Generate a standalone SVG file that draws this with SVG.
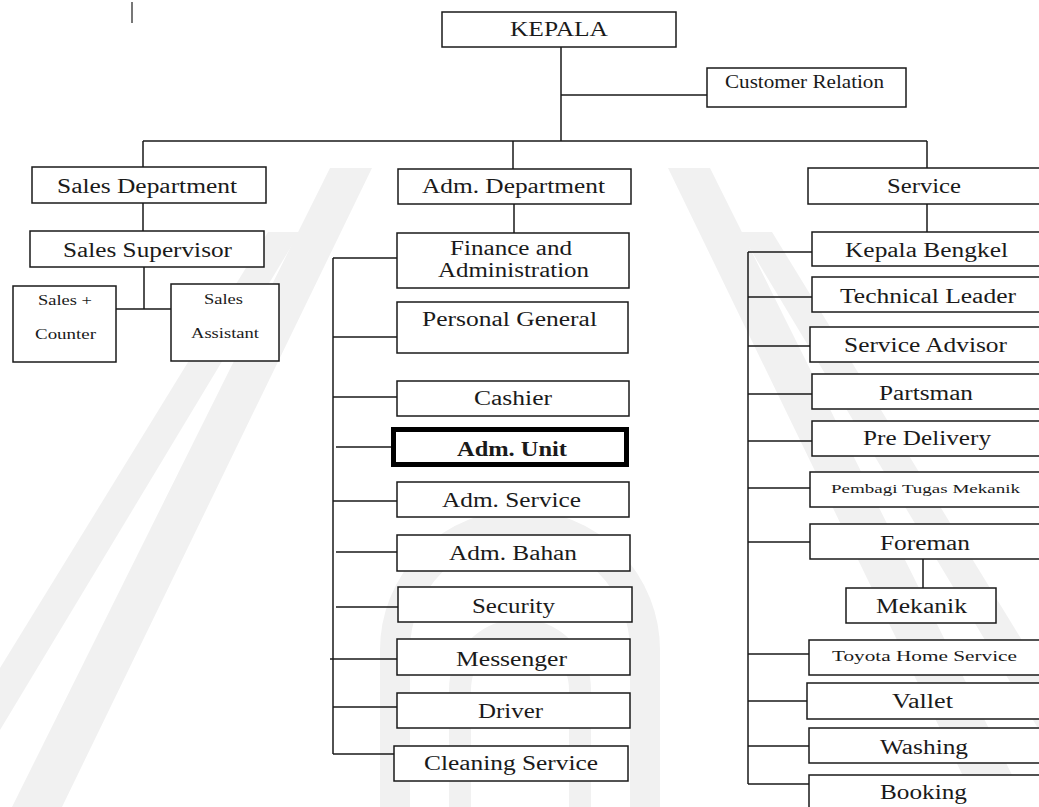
<svg xmlns="http://www.w3.org/2000/svg" width="1039" height="807" viewBox="0 0 1039 807">
<style>
.box{fill:#fff;stroke:#1a1a1a;stroke-width:1.5}
.thick{fill:#fff;stroke:#000;stroke-width:5}
.ln{stroke:#1a1a1a;stroke-width:1.5;fill:none}
.wm{fill:#f1f1f1;stroke:none}
.wms{fill:none;stroke:#f1f1f1}
text{font-family:"Liberation Serif","Times New Roman",serif;fill:#1a1a1a;text-anchor:middle}
.l{font-size:20.5px}
.m{font-size:18px}
.s{font-size:15.5px}
.xs{font-size:13.5px}
.b{font-weight:bold}
</style>
<rect x="0" y="0" width="1039" height="807" fill="#fff"/>
<g id="watermark">
<polygon class="wm" points="330,168 372,168 62,807 12,807"/>
<polygon class="wm" points="268,232 300,232 0,730 0,668"/>
<polygon class="wm" points="710,168 668,168 978,807 1028,807"/>
<polygon class="wm" points="772,232 740,232 1039,730 1039,668"/>
<path class="wms" stroke-width="30" d="M395 807V650A125 125 0 0 1 645 650V807"/>
<path class="wms" stroke-width="22" d="M460 807V690A60 60 0 0 1 580 690V807"/>
</g>
<line x1="132" y1="2" x2="132" y2="23" stroke="#777" stroke-width="2"/>
<g id="connectors">
<path class="ln" d="M561 47V141M561 95H707M143 141H927M143 141V167M513 141V169M927 141V168"/>
<path class="ln" d="M143 203V231M144 267V309M116 309H171"/>
<path class="ln" d="M514 204V233M333 258V754M333 258H397M333 337H397M333 397H397M336 447H392M333 501H397M336 552H397M336 607H398M330 659H397M333 707H397M333 754H394"/>
<path class="ln" d="M927 204V232M748 252V784M748 252H812M748 297H812M748 346H810M748 394H812M748 441H812M748 488H810M748 542H810M923 559V588M748 654H809M748 701H807M748 746H809M748 784H809"/>
</g>
<g id="kepala"><rect class="box" x="442" y="12" width="234" height="35"/><text class="l" x="559" y="36" textLength="98" lengthAdjust="spacingAndGlyphs">KEPALA</text></g>
<g id="customer-relation"><rect class="box" x="707" y="68" width="199" height="39"/><text class="m" x="804.5" y="88" textLength="159" lengthAdjust="spacingAndGlyphs">Customer Relation</text></g>
<g id="sales-department"><rect class="box" x="32" y="167" width="234" height="36"/><text class="l" x="147" y="193" textLength="180" lengthAdjust="spacingAndGlyphs">Sales Department</text></g>
<g id="adm-department"><rect class="box" x="398" y="169" width="233" height="35"/><text class="l" x="513.5" y="193" textLength="183" lengthAdjust="spacingAndGlyphs">Adm. Department</text></g>
<g id="service"><rect class="box" x="808" y="168" width="240" height="36"/><text class="l" x="924" y="193" textLength="74" lengthAdjust="spacingAndGlyphs">Service</text></g>
<g id="sales-supervisor"><rect class="box" x="30" y="231" width="234" height="36"/><text class="l" x="147.5" y="257" textLength="169" lengthAdjust="spacingAndGlyphs">Sales Supervisor</text></g>
<g id="sales-counter"><rect class="box" x="13" y="286" width="103" height="76"/><text class="s" x="65" y="305" textLength="54" lengthAdjust="spacingAndGlyphs">Sales +</text><text class="s" x="65.5" y="339" textLength="61" lengthAdjust="spacingAndGlyphs">Counter</text></g>
<g id="sales-assistant"><rect class="box" x="171" y="284" width="108" height="77"/><text class="s" x="223.5" y="304" textLength="39" lengthAdjust="spacingAndGlyphs">Sales</text><text class="s" x="225" y="338" textLength="68" lengthAdjust="spacingAndGlyphs">Assistant</text></g>
<g id="finance-administration"><rect class="box" x="397" y="233" width="232" height="55"/><text class="l" x="511" y="255" textLength="122" lengthAdjust="spacingAndGlyphs">Finance and</text><text class="l" x="513.5" y="277" textLength="151" lengthAdjust="spacingAndGlyphs">Administration</text></g>
<g id="personal-general"><rect class="box" x="397" y="302" width="231" height="51"/><text class="l" x="509.5" y="326" textLength="175" lengthAdjust="spacingAndGlyphs">Personal General</text></g>
<g id="cashier"><rect class="box" x="397" y="381" width="232" height="35"/><text class="l" x="513" y="405" textLength="78" lengthAdjust="spacingAndGlyphs">Cashier</text></g>
<g id="adm-unit"><rect class="thick" x="393.5" y="429.5" width="233" height="35"/><text class="l b" x="512" y="456" textLength="110" lengthAdjust="spacingAndGlyphs">Adm. Unit</text></g>
<g id="adm-service"><rect class="box" x="397" y="482" width="232" height="35"/><text class="l" x="511.5" y="507" textLength="139" lengthAdjust="spacingAndGlyphs">Adm. Service</text></g>
<g id="adm-bahan"><rect class="box" x="397" y="535" width="233" height="36"/><text class="l" x="513" y="560" textLength="128" lengthAdjust="spacingAndGlyphs">Adm. Bahan</text></g>
<g id="security"><rect class="box" x="398" y="587" width="234" height="35"/><text class="l" x="513.5" y="613" textLength="83" lengthAdjust="spacingAndGlyphs">Security</text></g>
<g id="messenger"><rect class="box" x="397" y="639" width="233" height="36"/><text class="l" x="511.5" y="666" textLength="111" lengthAdjust="spacingAndGlyphs">Messenger</text></g>
<g id="driver"><rect class="box" x="397" y="693" width="233" height="35"/><text class="l" x="510.5" y="718" textLength="65" lengthAdjust="spacingAndGlyphs">Driver</text></g>
<g id="cleaning-service"><rect class="box" x="394" y="746" width="234" height="35"/><text class="l" x="511" y="770" textLength="174" lengthAdjust="spacingAndGlyphs">Cleaning Service</text></g>
<g id="kepala-bengkel"><rect class="box" x="812" y="232" width="240" height="34"/><text class="l" x="926.5" y="257" textLength="163" lengthAdjust="spacingAndGlyphs">Kepala Bengkel</text></g>
<g id="technical-leader"><rect class="box" x="812" y="277" width="240" height="35"/><text class="l" x="928" y="303" textLength="176" lengthAdjust="spacingAndGlyphs">Technical Leader</text></g>
<g id="service-advisor"><rect class="box" x="810" y="327" width="240" height="35"/><text class="l" x="925.5" y="352" textLength="163" lengthAdjust="spacingAndGlyphs">Service Advisor</text></g>
<g id="partsman"><rect class="box" x="812" y="374" width="240" height="35"/><text class="l" x="926" y="400" textLength="94" lengthAdjust="spacingAndGlyphs">Partsman</text></g>
<g id="pre-delivery"><rect class="box" x="812" y="421" width="240" height="35"/><text class="l" x="927" y="445" textLength="128" lengthAdjust="spacingAndGlyphs">Pre Delivery</text></g>
<g id="pembagi-tugas-mekanik"><rect class="box" x="810" y="472" width="240" height="35"/><text class="xs" x="925.5" y="493" textLength="189" lengthAdjust="spacingAndGlyphs">Pembagi Tugas Mekanik</text></g>
<g id="foreman"><rect class="box" x="810" y="524" width="240" height="35"/><text class="l" x="925" y="550" textLength="90" lengthAdjust="spacingAndGlyphs">Foreman</text></g>
<g id="mekanik"><rect class="box" x="846" y="588" width="150" height="35"/><text class="l" x="921.5" y="613" textLength="91" lengthAdjust="spacingAndGlyphs">Mekanik</text></g>
<g id="toyota-home-service"><rect class="box" x="809" y="640" width="240" height="35"/><text class="s" x="924.5" y="661" textLength="185" lengthAdjust="spacingAndGlyphs">Toyota Home Service</text></g>
<g id="vallet"><rect class="box" x="807" y="683" width="240" height="36"/><text class="l" x="922.5" y="708" textLength="61" lengthAdjust="spacingAndGlyphs">Vallet</text></g>
<g id="washing"><rect class="box" x="809" y="728" width="240" height="35"/><text class="l" x="924" y="754" textLength="88" lengthAdjust="spacingAndGlyphs">Washing</text></g>
<g id="booking"><rect class="box" x="809" y="775" width="240" height="45"/><text class="l" x="923.5" y="799" textLength="87" lengthAdjust="spacingAndGlyphs">Booking</text></g>
</svg>
